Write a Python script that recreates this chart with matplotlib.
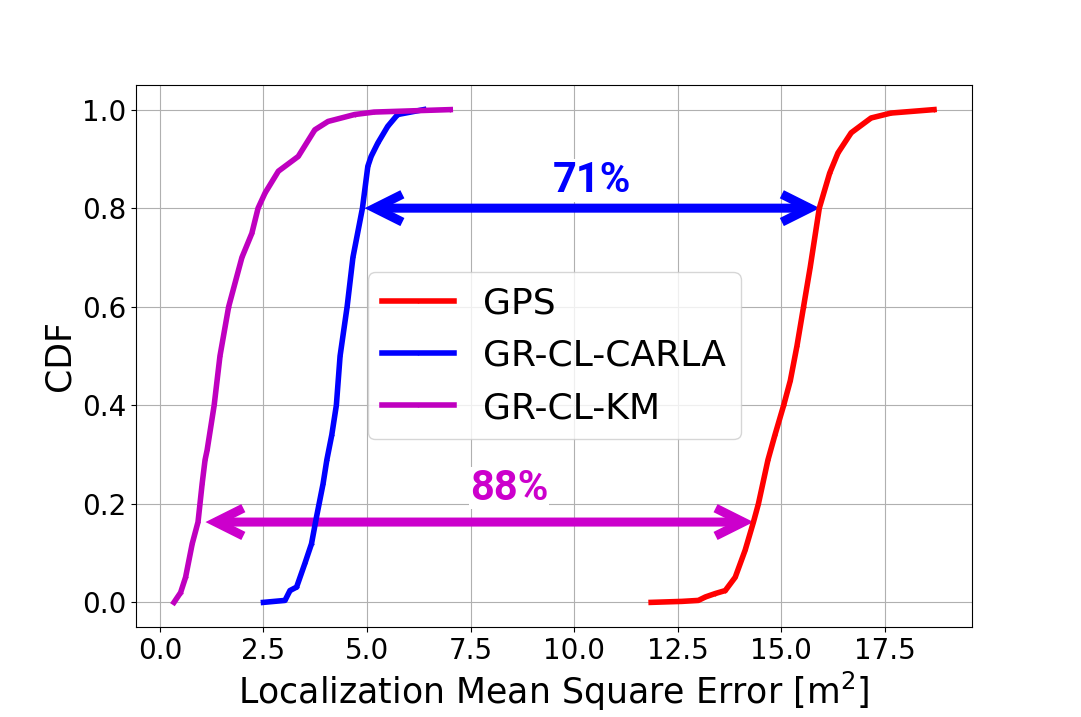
import matplotlib.pyplot as plt

# CDF curves (error in m^2 vs. cumulative fraction)
gps_err = [11.86, 12.6, 13.0, 13.17, 13.41, 13.65, 13.89, 14.13, 14.33, 14.45, 14.68,
           14.85, 15.06, 15.22, 15.38, 15.54, 15.7, 15.92, 16.17, 16.37, 16.69, 17.17,
           17.65, 18.69]
gps_cdf = [0.0, 0.002, 0.004, 0.011, 0.018, 0.024, 0.051, 0.106, 0.163, 0.2, 0.289,
           0.34, 0.4, 0.45, 0.52, 0.6, 0.68, 0.8, 0.871, 0.912, 0.953, 0.983,
           0.993, 1.0]

carla_err = [2.5, 3.02, 3.14, 3.30, 3.50, 3.66, 3.78, 3.94, 4.03, 4.15, 4.26, 4.35,
             4.52, 4.66, 4.89, 5.02, 5.10, 5.26, 5.50, 5.74, 6.37]
carla_cdf = [0.0, 0.004, 0.024, 0.031, 0.079, 0.119, 0.173, 0.241, 0.289, 0.34, 0.4,
             0.5, 0.6, 0.7, 0.8, 0.885, 0.905, 0.932, 0.966, 0.99, 1.0]

km_err = [0.34, 0.50, 0.62, 0.78, 0.92, 1.02, 1.09, 1.14, 1.31, 1.45, 1.66, 1.98,
          2.22, 2.37, 2.54, 2.86, 3.34, 3.74, 4.06, 4.70, 5.17, 7.01]
km_cdf = [0.0, 0.02, 0.051, 0.119, 0.163, 0.241, 0.289, 0.309, 0.4, 0.5, 0.6, 0.7,
          0.749, 0.8, 0.831, 0.875, 0.905, 0.959, 0.976, 0.99, 0.995, 1.0]

# improvement arrows: (x_start, x_end, cdf level, label)
arrow_71 = (4.94, 15.93, 0.8, '71%')
arrow_88 = (1.10, 14.33, 0.163, '88%')
label_71_pos = (10.44, 0.856)
label_88_pos = (8.43, 0.232)

fig = plt.figure(figsize=(10.81, 7.17), dpi=100)
ax = fig.add_axes([0.1258, 0.1255, 0.7734, 0.7560])

ax.plot(gps_err, gps_cdf, color='r', lw=4, marker='+', ms=3, label='GPS', zorder=2)
ax.plot(carla_err, carla_cdf, color='b', lw=4, marker='+', ms=3, label='GR-CL-CARLA', zorder=2)
ax.plot(km_err, km_cdf, color='m', lw=4, marker='+', ms=3, label='GR-CL-KM', zorder=2)

for (x0, x1, yy, txt), pos, col in [(arrow_71, label_71_pos, 'b'),
                                    (arrow_88, label_88_pos, '#cc00cc')]:
    ax.annotate('', xy=(x1, yy), xytext=(x0, yy),
                arrowprops=dict(arrowstyle='<->', color=col, lw=6.5, mutation_scale=50,
                                shrinkA=0, shrinkB=0, joinstyle='miter', capstyle='butt'),
                zorder=1.5)
    ax.text(pos[0], pos[1], txt, color=col, fontsize=30, fontweight='bold',
            family='Roboto', ha='center', va='center',
            bbox=dict(facecolor='white', edgecolor='none', pad=0.5), zorder=1.6)

ax.grid(True)
ax.set_axisbelow(True)
ax.tick_params(labelsize=20)
ax.set_xlabel('Localization Mean Square Error [m$^2$]', fontsize=25)
ax.set_ylabel('CDF', fontsize=25)
ax.legend(loc='center', fontsize=26)

fig.savefig('out.png', dpi=100)
